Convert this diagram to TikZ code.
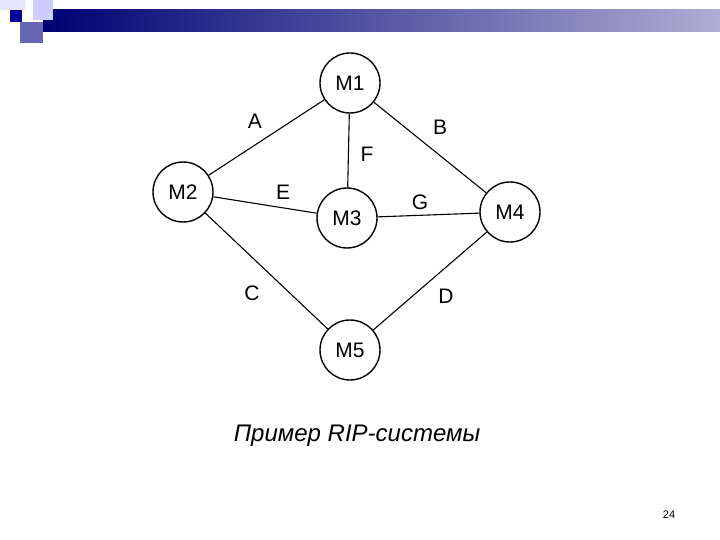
\documentclass[tikz,border=0pt]{standalone}
\usepackage{fontspec}
\setmainfont{Liberation Sans}
\begin{document}
\begin{tikzpicture}[x=1pt,y=-1pt,
  rnode/.style={circle,draw,line width=1.4pt,minimum size=60pt,inner sep=0pt,font=\fontsize{21}{21}\selectfont},
  lbl/.style={font=\fontsize{21}{21}\selectfont},
  edge/.style={line width=1.1pt}]
\useasboundingbox (0,0) rectangle (720,540);
\shade[left color=blue!45!black,right color=black!20!white!85!blue] (43,10) rectangle (720,32);
\fill[blue!20!white] (33,0) rectangle (53,20);
\fill[blue!50!black!60!white] (20,22) rectangle (43,43);
\fill[blue!10!white] (0,0) rectangle (25,10);
\fill[blue!60!black] (10,10) rectangle (22,22);
\node[rnode] (m1) at (350,83) {M1};
\node[rnode] (m2) at (183,192) {M2};
\node[rnode] (m3) at (347,218) {M3};
\node[rnode] (m4) at (510,212) {M4};
\node[rnode] (m5) at (350,350) {M5};
\draw[edge] (m1) -- (m2);
\draw[edge] (m1) -- (m4);
\draw[edge] (m1) -- (m3);
\draw[edge] (m2) -- (m3);
\draw[edge] (m3) -- (m4);
\draw[edge] (m2) -- (m5);
\draw[edge] (m4) -- (m5);
\node[lbl] (la) at (255,121) {A};
\node[lbl] (lb) at (440,127) {B};
\node[lbl] (lf) at (367,154) {F};
\node[lbl] (le) at (283,192) {E};
\node[lbl] (lg) at (420,202) {G};
\node[lbl] (lc) at (252,293) {C};
\node[lbl] (ld) at (446,296) {D};
\node[font=\fontsize{24}{24}\selectfont\itshape] (cap) at (357,436) {Пример RIP-системы};
\node[font=\fontsize{11}{11}\selectfont] (pg) at (669,515) {24};
\end{tikzpicture}
\end{document}
